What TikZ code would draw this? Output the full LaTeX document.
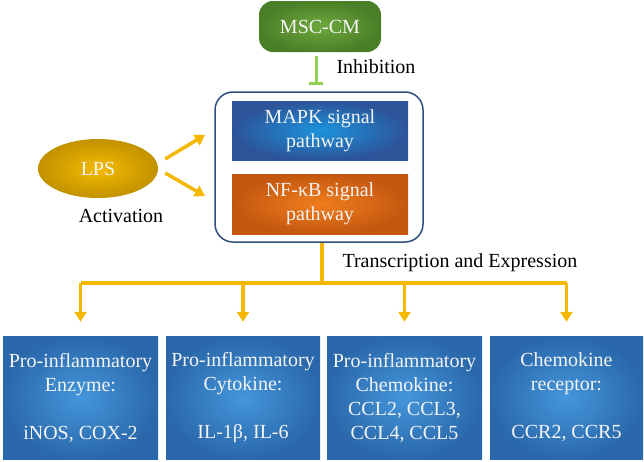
\documentclass[tikz,border=0pt]{standalone}
\usepackage{fontspec}
\setmainfont{Liberation Serif}
\usetikzlibrary{arrows.meta,shapes.geometric}
\definecolor{mscin}{HTML}{6FA83E}
\definecolor{mscout}{HTML}{4A7F27}
\definecolor{inhib}{HTML}{92D050}
\definecolor{lpsin}{HTML}{F4BA00}
\definecolor{lpsout}{HTML}{C29200}
\definecolor{yel}{HTML}{F5B800}
\definecolor{mapkin}{HTML}{1C93DC}
\definecolor{mapkout}{HTML}{2D5499}
\definecolor{nfin}{HTML}{F07E1E}
\definecolor{nfout}{HTML}{C4570F}
\definecolor{bin}{HTML}{4496DA}
\definecolor{bout}{HTML}{2A68AB}
\definecolor{outline}{HTML}{2F4D7E}
\definecolor{wtext}{HTML}{F4F4F4}
\begin{document}
\begin{tikzpicture}[x=1pt,y=-1pt,
  font=\fontsize{20}{24}\selectfont,
  mscbox/.style={rectangle, rounded corners=14pt, minimum width=122pt, minimum height=51pt, inner sep=0pt, inner color=mscin, outer color=mscout, text=wtext},
  pathbox/.style={rectangle, minimum width=176pt, minimum height=59pt, inner sep=0pt, align=center, text=wtext},
  botbox/.style={rectangle, minimum width=155pt, minimum height=123pt, inner sep=0pt, align=center, inner color=bin, outer color=bout, text=wtext},
  lpsnode/.style={ellipse, minimum width=120pt, minimum height=59pt, inner sep=0pt, inner color=lpsin, outer color=lpsout, text=wtext},
  frame/.style={rectangle, draw=outline, rounded corners=18pt, line width=1.5pt, minimum width=208pt, minimum height=150pt},
  yline/.style={draw=yel, line width=3.5pt},
  yarrow/.style={yline, -{Triangle[width=12pt,length=10pt]}},
  lbl/.style={text=black}
]
\useasboundingbox (0,0) rectangle (644,461);

\node[mscbox] (msc) at (320,26.5) {MSC-CM};
\node[frame] (outer) at (319,167) {};
\node[pathbox, inner color=mapkin, outer color=mapkout] (mapk) at (320,130.5) {MAPK signal\\pathway};
\node[pathbox, inner color=nfin, outer color=nfout, minimum height=60pt] (nfkb) at (320,204) {NF-κB signal\\pathway};
\node[lpsnode] (lps) at (98,168.5) {LPS};

\node[lbl, anchor=west] (inhl) at (333,67) {Inhibition};
\node[lbl] (actl) at (121,216) {Activation};
\node[lbl, anchor=west] (trl) at (339,263) {Transcription and Expression};

\node[botbox] (b1) at (80.5,397.5) {Pro-inflammatory\\Enzyme:\\~\\iNOS, COX-2};
\node[botbox, minimum width=154pt] (b2) at (243,397.5) {Pro-inflammatory\\Cytokine:\\~\\IL-1β, IL-6};
\node[botbox] (b3) at (404.5,397.5) {Pro-inflammatory\\Chemokine:\\CCL2, CCL3,\\CCL4, CCL5};
\node[botbox, minimum width=153pt] (b4) at (566.5,397.5) {Chemokine\\receptor:\\~\\CCR2, CCR5};

% inhibition
\coordinate (inhend) at (316,85);
\draw[draw=inhib, line width=3pt, -{Bar[width=14pt,line width=3pt]}] ([xshift=-4pt,yshift=-4pt]msc.south) -- (inhend);

% activation arrows
\coordinate (t1) at (205,135);
\coordinate (t2) at (205,196);
\draw[yarrow] ([xshift=7pt,yshift=9.5pt]lps.east) -- (t1);
\draw[yarrow] ([xshift=7pt,yshift=-4.5pt]lps.east) -- (t2);

% transcription bus
\coordinate (bus) at (322,283);
\draw[yline] (outer.south -| bus) -- (bus);
\draw[yline] (b1.north |- bus) -- (b4.north |- bus);
\foreach \b in {b1,b2,b3,b4}
  \draw[yarrow] (\b.north |- bus) -- ([yshift=14pt]\b.north);
\end{tikzpicture}
\end{document}
